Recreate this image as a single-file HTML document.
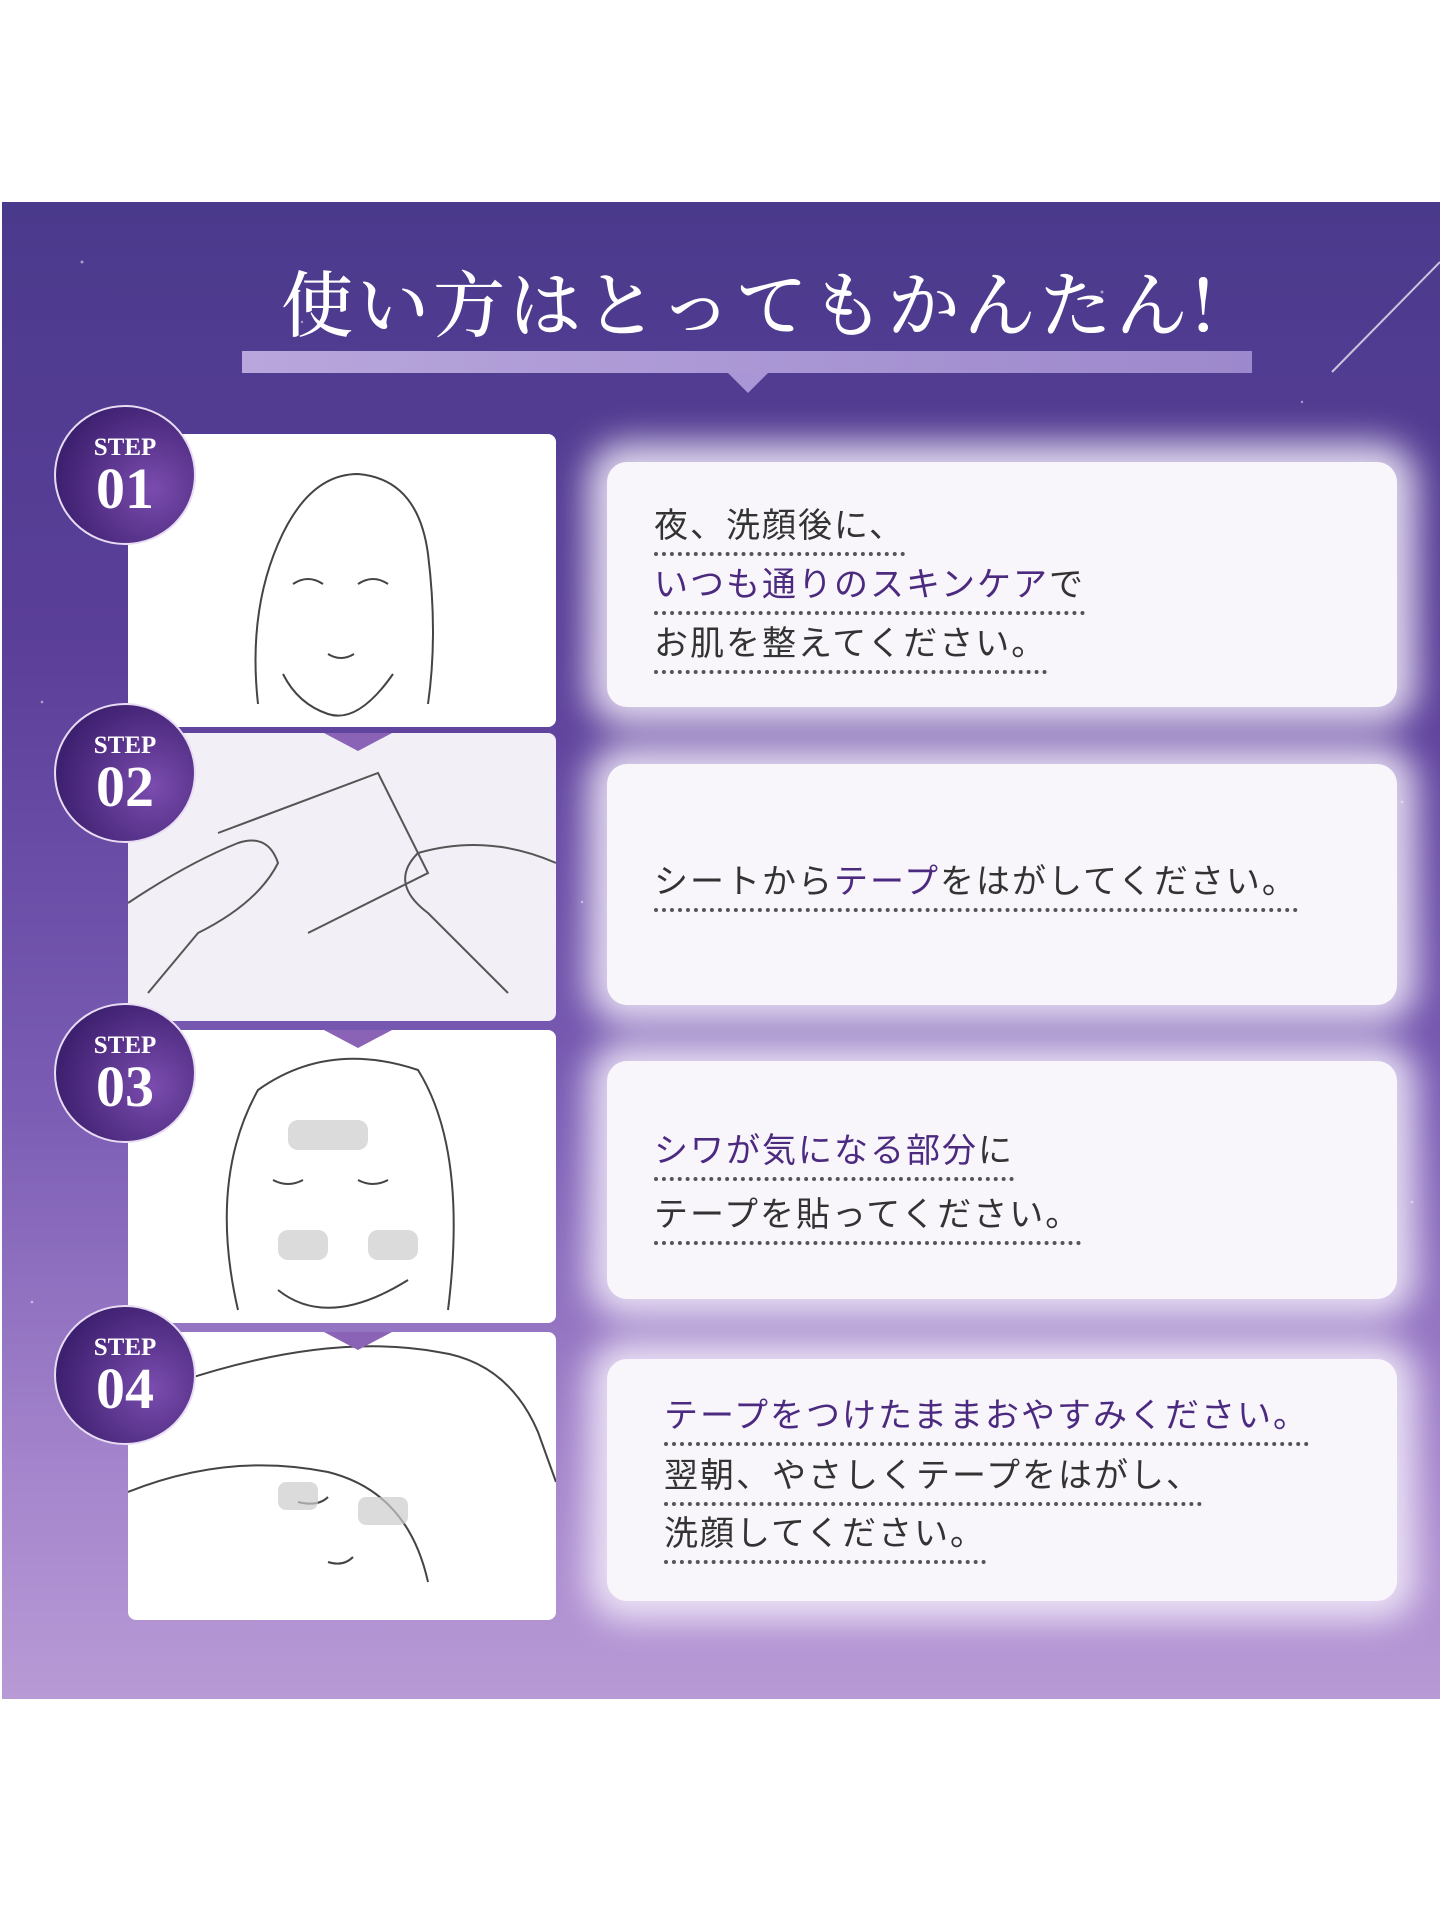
<!DOCTYPE html>
<html><head><meta charset="utf-8"><style>
*{margin:0;padding:0;box-sizing:border-box}
body{width:1440px;height:1916px;background:#fff;position:relative;overflow:hidden;font-family:"Liberation Sans","Noto Sans CJK JP",sans-serif}
#band{position:absolute;left:2px;top:202px;width:1438px;height:1497px;background:linear-gradient(180deg,#4a3a8c 0%,#5b3f99 30%,#7a5cb4 60%,#a585cc 85%,#b89ad6 100%);overflow:hidden}
.title{position:absolute;top:248px;left:0;width:1500px;text-align:center;font-family:"Noto Serif CJK SC","Noto Sans CJK JP",serif;font-size:72px;color:#fff;letter-spacing:4px;font-weight:500}
.bar{position:absolute;left:242px;top:351px;width:1010px;height:22px;background:linear-gradient(90deg,#b8a6dc,#9c88cc)}
.tri{position:absolute;left:728px;top:373px;width:0;height:0;border-left:20px solid transparent;border-right:20px solid transparent;border-top:20px solid #a896d6}
.card{position:absolute;left:128px;width:428px;background:#fff;border-radius:8px}
.card.g{background:#f2f0f6}
.circ{position:absolute;left:54px;width:142px;height:140px;border-radius:50%;background:radial-gradient(circle at 70% 60%,#7a4cae,#3e2070 75%);border:2px solid #e8dcf4;color:#fff;text-align:center;font-family:"Liberation Serif",serif;font-weight:bold}
.circ .s{font-size:25px;margin-top:28px;line-height:26px}
.circ .n{font-size:58px;line-height:56px}
.box{position:absolute;left:607px;width:790px;background:#f8f6fb;border-radius:20px;box-shadow:0 0 34px 20px rgba(246,240,252,.85)}
.t{position:absolute;font-size:34px;color:#333;white-space:nowrap;line-height:40px;padding-bottom:6px;border-bottom:4px dotted #555;letter-spacing:2px}
.p{color:#4b2a80}
.pt{position:absolute;left:324px;width:0;height:0;border-left:34px solid transparent;border-right:34px solid transparent;border-top:18px solid #8a62b6}
</style></head><body>
<div id="band">
<svg width="1438" height="1497" style="position:absolute;left:0;top:0">
<g fill="#fff" opacity=".5">
<circle cx="80" cy="60" r="1.5"/><circle cx="300" cy="120" r="1.2"/><circle cx="1100" cy="90" r="1.5"/><circle cx="1300" cy="200" r="1.2"/><circle cx="40" cy="500" r="1.3"/><circle cx="1400" cy="600" r="1.3"/><circle cx="580" cy="700" r="1.2"/><circle cx="1410" cy="1000" r="1.3"/><circle cx="30" cy="1100" r="1.3"/><circle cx="900" cy="160" r="1.2"/>
</g>
<line x1="1330" y1="170" x2="1438" y2="60" stroke="#fff" stroke-width="2" opacity=".7"/>
</svg>
</div>
<div class="title">使い方はとってもかんたん!</div>
<div class="bar"></div><div class="tri"></div>

<div class="card" style="top:434px;height:293px">
<svg width="428" height="293"><g fill="none" stroke="#444" stroke-width="2"><path d="M130 270 Q120 180 150 110 Q180 40 230 40 Q290 45 300 120 Q310 200 300 270"/><path d="M155 240 Q170 270 200 280 Q230 290 265 240"/><path d="M165 150 Q180 140 195 150M230 150 Q245 140 260 150"/><path d="M200 220 Q213 228 226 220"/></g></svg>
</div>
<div class="card g" style="top:733px;height:288px">
<svg width="428" height="288"><g fill="none" stroke="#555" stroke-width="2"><path d="M0 170 Q60 130 110 110 Q140 100 150 130 Q130 170 70 200 L20 260"/><path d="M90 100 L250 40 L300 140 L180 200"/><path d="M428 130 Q360 100 290 120 Q260 150 300 180 L380 260"/></g></svg>
</div>
<div class="card" style="top:1030px;height:293px">
<svg width="428" height="293"><g fill="none" stroke="#444" stroke-width="2"><path d="M110 280 Q80 150 130 60 Q200 10 290 40 Q340 120 320 280"/><path d="M150 260 Q200 300 280 250"/><path d="M145 150 Q160 158 175 150M230 150 Q245 158 260 150"/></g><g fill="#ccc" opacity=".7"><rect x="160" y="90" width="80" height="30" rx="10"/><rect x="150" y="200" width="50" height="30" rx="10"/><rect x="240" y="200" width="50" height="30" rx="10"/></g></svg>
</div>
<div class="card" style="top:1332px;height:288px">
<svg width="428" height="288"><g fill="none" stroke="#444" stroke-width="2"><path d="M50 50 Q200 0 310 20 Q380 30 410 100 L428 150"/><path d="M0 160 Q100 120 200 140 Q280 160 300 250"/><path d="M170 170 Q190 175 200 165M200 230 Q215 235 225 225"/></g><g fill="#ccc" opacity=".7"><rect x="150" y="150" width="40" height="28" rx="8"/><rect x="230" y="165" width="50" height="28" rx="8"/></g></svg>
</div>
<div class="pt" style="top:733px"></div>
<div class="pt" style="top:1030px"></div>
<div class="pt" style="top:1332px"></div>

<div class="circ" style="top:405px"><div class="s">STEP</div><div class="n">01</div></div>
<div class="circ" style="top:703px"><div class="s">STEP</div><div class="n">02</div></div>
<div class="circ" style="top:1003px"><div class="s">STEP</div><div class="n">03</div></div>
<div class="circ" style="top:1305px"><div class="s">STEP</div><div class="n">04</div></div>

<div class="box" style="top:462px;height:245px"></div>
<div class="box" style="top:764px;height:241px"></div>
<div class="box" style="top:1061px;height:238px"></div>
<div class="box" style="top:1359px;height:242px"></div>

<div class="t" style="left:654px;top:506px">夜、洗顔後に、</div>
<div class="t p" style="left:654px;top:565px">いつも通りのスキンケア<span style="color:#333">で</span></div>
<div class="t" style="left:654px;top:624px">お肌を整えてください。</div>

<div class="t" style="left:654px;top:862px">シートから<span class="p">テープ</span>をはがしてください。</div>

<div class="t" style="left:654px;top:1131px"><span class="p">シワが気になる部分</span>に</div>
<div class="t" style="left:654px;top:1195px">テープを貼ってください。</div>

<div class="t p" style="left:664px;top:1396px">テープをつけたままおやすみください。</div>
<div class="t" style="left:664px;top:1456px">翌朝、やさしくテープをはがし、</div>
<div class="t" style="left:664px;top:1514px">洗顔してください。</div>
</body></html>
